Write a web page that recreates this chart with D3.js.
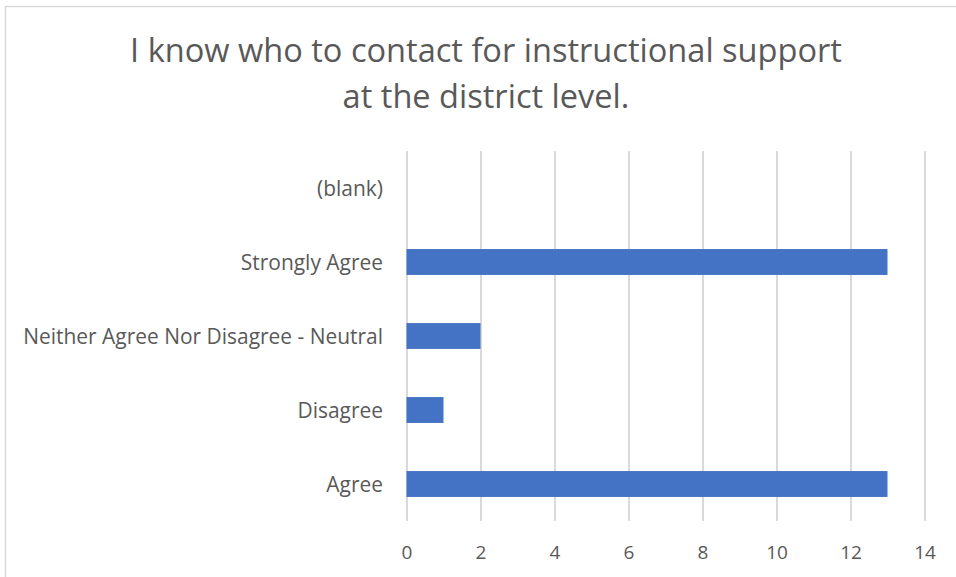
<!DOCTYPE html>
<html>
<head>
<meta charset="utf-8">
<script src="https://cdn.jsdelivr.net/npm/d3@7"></script>
<style>
  html, body { margin: 0; padding: 0; background: #fff; }
  svg { display: block; }
  text { font-family: "Open Sans", "Noto Sans", sans-serif; fill: #595959; }
</style>
</head>
<body>
<svg id="chart" width="956" height="577"></svg>
<script>
const titleLines = ["I know who to contact for instructional support", "at the district level."];
const categories = ["(blank)", "Strongly Agree", "Neither Agree Nor Disagree - Neutral", "Disagree", "Agree"];
const values = [null, 13, 2, 1, 13];
const tickValues = [0, 2, 4, 6, 8, 10, 12, 14];

const W = 956, H = 577;
const plot = { left: 406.5, right: 924.5, top: 151, bottom: 521 };
const svg = d3.select("#chart");

// chart border (extends past right/bottom edges)
svg.append("rect")
  .attr("x", 5.5).attr("y", 6.5)
  .attr("width", W + 20).attr("height", H + 20)
  .attr("fill", "#fff").attr("stroke", "#d9d9d9").attr("stroke-width", 1.5);

const x = d3.scaleLinear().domain([0, 14]).range([plot.left, plot.right]);
const y = d3.scaleBand().domain(categories).range([plot.top, plot.bottom])
  .paddingInner(0.65).paddingOuter(0.325);

// gridlines + tick labels
const gx = svg.append("g").attr("transform", `translate(0,${plot.bottom})`)
  .call(d3.axisBottom(x).tickValues(tickValues).tickSize(-(plot.bottom - plot.top)).tickPadding(0));
gx.select(".domain").remove();
gx.selectAll(".tick line").attr("stroke", "#d9d9d9").attr("stroke-width", 2);
gx.selectAll(".tick text")
  .attr("y", 38).attr("dy", null)
  .style("font-size", "19px").style("fill", "#595959")
  .style("font-family", '"Open Sans", "Noto Sans", sans-serif');

// bars
svg.append("g").selectAll("rect")
  .data(categories.map((c, i) => ({ c, v: values[i] })).filter(d => d.v != null))
  .join("rect")
  .attr("x", x(0))
  .attr("y", d => y(d.c))
  .attr("width", d => x(d.v) - x(0))
  .attr("height", y.bandwidth())
  .attr("fill", "#4472C4");

// category labels
const labels = svg.append("g").selectAll("text")
  .data(categories)
  .join("text")
  .attr("x", 383)
  .attr("y", d => y(d) + y.bandwidth() / 2)
  .attr("dy", "0.36em")
  .attr("text-anchor", "end")
  .style("font-size", "18px")
  .text(d => d);

// fit label font so longest label spans ~360px
(function fit() {
  const longest = labels.filter(d => d === categories[2]).node();
  const w = longest.getComputedTextLength();
  const fs = 18 * 360 / w;
  labels.style("font-size", fs.toFixed(2) + "px");
})();

// title
const title = svg.append("g").selectAll("text")
  .data(titleLines)
  .join("text")
  .attr("x", 486)
  .attr("y", (d, i) => i === 0 ? 62 : 108)
  .attr("text-anchor", "middle")
  .style("font-size", "30px")
  .text(d => d);
(function fitTitle() {
  const w = title.filter((d, i) => i === 0).node().getComputedTextLength();
  const fs = 30 * 712 / w;
  title.style("font-size", fs.toFixed(2) + "px");
})();
</script>
</body>
</html>
